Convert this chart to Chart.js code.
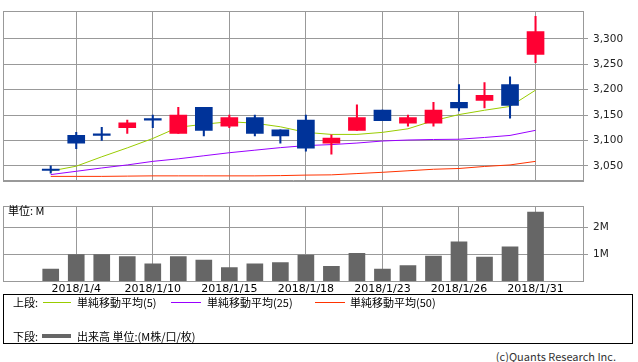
<!DOCTYPE html>
<html><head><meta charset="utf-8">
<script src="https://cdn.jsdelivr.net/npm/chart.js@4.4.0/dist/chart.umd.min.js"></script>
<style>
html,body{margin:0;padding:0;background:#fff;width:638px;height:362px;overflow:hidden;font-family:"Noto Sans CJK JP",sans-serif;}
.abs{position:absolute;}
.t{position:absolute;font-size:11px;color:#000;white-space:nowrap;line-height:14px;}
#legend{position:absolute;left:3px;top:294px;width:630px;height:50px;border:1px solid #000;box-sizing:border-box;}
.ln{position:absolute;height:1px;}
</style></head><body>
<canvas id="c1" class="abs" style="left:0;top:0" width="638" height="192"></canvas>
<canvas id="c2" class="abs" style="left:0;top:195px" width="638" height="100"></canvas>
<div class="t" style="left:8px;top:203px">単位: M</div>
<div id="legend"></div>
<div class="t" style="left:13px;top:295px">上段:</div>
<div class="ln" style="left:43px;width:28px;top:302px;background:#99cc00"></div>
<div class="t" style="left:77px;top:295px">単純移動平均(5)</div>
<div class="ln" style="left:171px;width:30px;top:302px;background:#9900ff"></div>
<div class="t" style="left:207px;top:295px">単純移動平均(25)</div>
<div class="ln" style="left:315px;width:30px;top:302px;background:#ff3300"></div>
<div class="t" style="left:350px;top:295px">単純移動平均(50)</div>
<div class="t" style="left:13px;top:329px">下段:</div>
<div class="ln" style="left:42px;width:29px;top:334px;height:4px;background:#666666"></div>
<div class="t" style="left:77px;top:329px">出来高 単位:(M株/口/枚)</div>
<div class="t" style="right:22px;top:349px;color:#333">(c)Quants Research Inc.</div>
<script>
const dates = ['2017/12/29','2018/1/4','2018/1/5','2018/1/9','2018/1/10','2018/1/11','2018/1/12','2018/1/15','2018/1/16','2018/1/17','2018/1/18','2018/1/19','2018/1/22','2018/1/23','2018/1/24','2018/1/25','2018/1/26','2018/1/29','2018/1/30','2018/1/31'];
const tickDates = ['2018/1/4','2018/1/10','2018/1/15','2018/1/18','2018/1/23','2018/1/26','2018/1/31'];
const openP  = [3041,3110,3110,3125,3140,3114,3165,3128,3145,3121,3140,3095,3120,3160,3134,3134,3175,3179,3210,3269];
const closeP = [3041,3095,3110,3135,3140,3150,3120,3145,3114,3109,3085,3105,3145,3139,3145,3160,3164,3189,3169,3314];
const highP  = [3050,3116,3126,3140,3150,3165,3165,3150,3150,3121,3150,3111,3170,3160,3150,3175,3210,3214,3225,3344];
const lowP   = [3036,3084,3100,3114,3125,3114,3109,3125,3109,3095,3079,3073,3120,3139,3128,3128,3158,3164,3144,3253];
const ma5  = [3040,3049.5,3068,3085.5,3104,3126,3132,3137,3134,3127,3116,3112,3112,3116,3123,3139,3151,3159.5,3167,3199];
const ma25 = [3033,3039.5,3046,3052,3059,3064,3070,3076,3081,3086,3090,3092,3095,3099,3101,3102,3102.5,3106,3110,3120];
const ma50 = [3029.5,3029.5,3029.5,3030,3030.5,3030.5,3030.5,3030.5,3030.5,3031,3032,3032.5,3035,3037.5,3040.5,3043.5,3045,3049,3052,3059];
const volume = [0.44,0.98,0.98,0.91,0.64,0.91,0.78,0.50,0.64,0.68,0.96,0.54,1.03,0.44,0.57,0.92,1.45,0.89,1.27,2.56];
const priceTicks = [3050,3100,3150,3200,3250,3300];
const volTicks = [1,2];

const UP='#ff0033', DOWN='#003399', GRID='#999999';
const idx = dates.map((d,i)=>i);
const tickIdx = tickDates.map(d=>dates.indexOf(d));
const candleColor = idx.map(i => closeP[i] > openP[i] ? UP : DOWN);

const frame = {
  id:'frame',
  afterDraw(chart){
    const a = chart.chartArea, c = chart.ctx;
    c.save(); c.strokeStyle = GRID; c.lineWidth = 1;
    c.strokeRect(Math.round(a.left)+0.5, Math.round(a.top)+0.5, Math.round(a.right)-Math.round(a.left), Math.round(a.bottom)-Math.round(a.top));
    c.restore();
  }
};

function xScale(showLabels){
  return {
    type:'linear', min:-1.87, max:20.86, offset:false,
    afterBuildTicks(s){ s.ticks = tickIdx.map(v=>({value:v})); },
    grid:{color:GRID, drawTicks:false, lineWidth:1, offset:false},
    border:{color:GRID},
    ticks:{display:showLabels, autoSkip:false, maxRotation:0, padding:2,
      color:'#000', font:{family:'DejaVu Sans', size:11},
      callback:(v)=> dates[v] || ''},
    afterFit(s){ s.height = showLabels ? 14 : 0; }
  };
}

new Chart(document.getElementById('c1'), {
  type:'bar',
  data:{ datasets:[
    {type:'line', data:idx.map(i=>({x:i,y:ma50[i]})), borderColor:'#ff3300', borderWidth:1, pointRadius:0, tension:0, order:3},
    {type:'line', data:idx.map(i=>({x:i,y:ma25[i]})), borderColor:'#9900ff', borderWidth:1, pointRadius:0, tension:0, order:3},
    {type:'line', data:idx.map(i=>({x:i,y:ma5[i]})), borderColor:'#99cc00', borderWidth:1, pointRadius:0, tension:0, order:3},
    {type:'bar', data:idx.map(i=>({x:i,y:[lowP[i],highP[i]]})), backgroundColor:candleColor, barThickness:1.4, grouped:false, order:2},
    {type:'bar', data:idx.map(i=>({x:i,y:[openP[i],closeP[i]]})), backgroundColor:candleColor, barThickness:17, minBarLength:1.5, grouped:false, order:1}
  ]},
  options:{
    responsive:false, animation:false, devicePixelRatio:1,
    layout:{padding:{left:3,top:1,right:0,bottom:1}},
    plugins:{legend:{display:false}, tooltip:{enabled:false}},
    scales:{
      x: xScale(false),
      y:{ position:'right', min:3021, max:3354,
        afterBuildTicks(s){ s.ticks = priceTicks.map(v=>({value:v})); },
        grid:{color:GRID, tickLength:5, lineWidth:1},
        border:{color:GRID},
        ticks:{color:'#222', padding:5, font:{family:'DejaVu Sans', size:10.5},
          callback:v=>v.toLocaleString('en-US')},
        afterFit(s){ s.width = 55; }
      }
    }
  },
  plugins:[frame]
});

new Chart(document.getElementById('c2'), {
  type:'bar',
  data:{ datasets:[
    {data:idx.map(i=>({x:i,y:volume[i]})), backgroundColor:'#666666', barThickness:16}
  ]},
  options:{
    responsive:false, animation:false, devicePixelRatio:1,
    layout:{padding:{left:3,top:6,right:0,bottom:0}},
    plugins:{legend:{display:false}, tooltip:{enabled:false}},
    scales:{
      x: xScale(true),
      y:{ position:'right', min:0, max:2.77,
        afterBuildTicks(s){ s.ticks = volTicks.map(v=>({value:v})); },
        grid:{color:GRID, tickLength:5, lineWidth:1},
        border:{color:GRID},
        ticks:{color:'#222', padding:5, font:{family:'DejaVu Sans', size:10.5},
          callback:v=>v+'M'},
        afterFit(s){ s.width = 55; }
      }
    }
  },
  plugins:[frame]
});
</script>
</body></html>
